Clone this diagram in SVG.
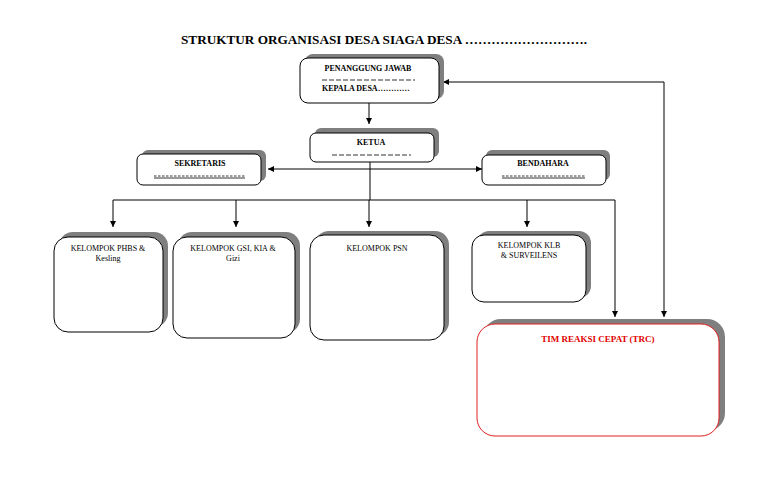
<svg xmlns="http://www.w3.org/2000/svg" width="768" height="489" viewBox="0 0 768 489">
<style>
text{font-family:"Liberation Serif","Times New Roman",serif;fill:#000}
.t{font-size:13px;font-weight:bold}
.h{font-size:8px;font-weight:bold}
.g{font-size:8px}
.r{font-size:9px;font-weight:bold;fill:#e00000}
.sh{fill:#7f7f7f}
.bx{fill:#fff;stroke:#000;stroke-width:1}
.rbx{fill:#fff;stroke:#e02020;stroke-width:1}
.c{fill:none;stroke:#000;stroke-width:1}
.u{stroke:#000;stroke-width:0.8}
</style>
<defs>
<marker id="a" viewBox="0 0 8 8" refX="8" refY="4" markerWidth="6" markerHeight="6" markerUnits="userSpaceOnUse" orient="auto-start-reverse">
<path d="M0,0L8,4L0,8z" fill="#000"/>
</marker>
</defs>
<rect width="768" height="489" fill="#fff"/>
<text class="t" x="384" y="44" text-anchor="middle" textLength="406" lengthAdjust="spacingAndGlyphs">STRUKTUR ORGANISASI DESA SIAGA DESA ……………………….</text>

<g id="connectors">
<line class="c" x1="369" y1="103" x2="369" y2="124" marker-end="url(#a)"/>
<line class="c" x1="370" y1="162" x2="370" y2="200"/>
<line class="c" x1="268" y1="169" x2="482" y2="169" marker-start="url(#a)" marker-end="url(#a)"/>
<line class="c" x1="113" y1="200" x2="615" y2="200"/>
<line class="c" x1="113" y1="200" x2="113" y2="227" marker-end="url(#a)"/>
<line class="c" x1="236" y1="200" x2="236" y2="227" marker-end="url(#a)"/>
<line class="c" x1="369" y1="200" x2="369" y2="227" marker-end="url(#a)"/>
<line class="c" x1="527" y1="200" x2="527" y2="227" marker-end="url(#a)"/>
<line class="c" x1="615" y1="200" x2="615" y2="317" marker-end="url(#a)"/>
<path class="c" d="M443,82H664V317" marker-start="url(#a)" marker-end="url(#a)"/>
</g>

<g id="penanggung-jawab">
<rect class="sh" x="305" y="54" width="139" height="45" rx="8"/>
<rect class="bx" x="300" y="58" width="139" height="45" rx="8"/>
<text class="h" x="368" y="71" text-anchor="middle">PENANGGUNG JAWAB</text>
<line class="u" x1="322" y1="80" x2="415" y2="80" stroke-dasharray="5 2"/>
<text class="h" x="322" y="91">KEPALA DESA…………</text>
</g>

<g id="ketua">
<rect class="sh" x="315" y="128" width="124" height="29" rx="6"/>
<rect class="bx" x="310" y="133" width="124" height="29" rx="6"/>
<text class="h" x="371" y="145" text-anchor="middle">KETUA</text>
<line class="u" x1="332" y1="155" x2="411" y2="155" stroke-dasharray="5 2"/>
</g>

<g id="sekretaris">
<rect class="sh" x="142" y="150" width="124" height="31" rx="6"/>
<rect class="bx" x="137" y="154" width="124" height="31" rx="6"/>
<text class="h" x="200" y="166" text-anchor="middle">SEKRETARIS</text>
<line class="u" x1="154" y1="176" x2="245" y2="176" stroke-dasharray="2.5 1.5"/>
<line class="u" x1="154" y1="178" x2="245" y2="178"/>
</g>

<g id="bendahara">
<rect class="sh" x="486" y="150" width="124" height="30" rx="6"/>
<rect class="bx" x="482" y="155" width="124" height="30" rx="6"/>
<text class="h" x="543" y="166" text-anchor="middle">BENDAHARA</text>
<line class="u" x1="502" y1="176" x2="585" y2="176" stroke-dasharray="2.5 1.5"/>
<line class="u" x1="502" y1="178" x2="585" y2="178"/>
</g>

<g id="kelompok-phbs">
<rect class="sh" x="59" y="232" width="109" height="95" rx="14"/>
<rect class="bx" x="54" y="237" width="109" height="95" rx="14"/>
<text class="g" x="108" y="251" text-anchor="middle">KELOMPOK PHBS &amp;</text>
<text class="g" x="108" y="261" text-anchor="middle">Kesling</text>
</g>

<g id="kelompok-gsi">
<rect class="sh" x="178" y="232" width="122" height="101" rx="14"/>
<rect class="bx" x="173" y="237" width="122" height="101" rx="14"/>
<text class="g" x="233" y="251" text-anchor="middle">KELOMPOK GSI, KIA &amp;</text>
<text class="g" x="233" y="261" text-anchor="middle">Gizi</text>
</g>

<g id="kelompok-psn">
<rect class="sh" x="315" y="231" width="134" height="105" rx="14"/>
<rect class="bx" x="310" y="235" width="134" height="105" rx="14"/>
<text class="g" x="377" y="251" text-anchor="middle">KELOMPOK PSN</text>
</g>

<g id="kelompok-klb">
<rect class="sh" x="477" y="231" width="114" height="67" rx="12"/>
<rect class="bx" x="472" y="235" width="114" height="67" rx="12"/>
<text class="g" x="529" y="248" text-anchor="middle">KELOMPOK KLB</text>
<text class="g" x="529" y="258" text-anchor="middle">&amp; SURVEILENS</text>
</g>

<g id="trc">
<rect class="sh" x="483" y="319" width="242" height="112" rx="18"/>
<rect class="rbx" x="477" y="324" width="242" height="112" rx="18"/>
<text class="r" x="598" y="342" text-anchor="middle">TIM REAKSI CEPAT (TRC)</text>
</g>
</svg>
